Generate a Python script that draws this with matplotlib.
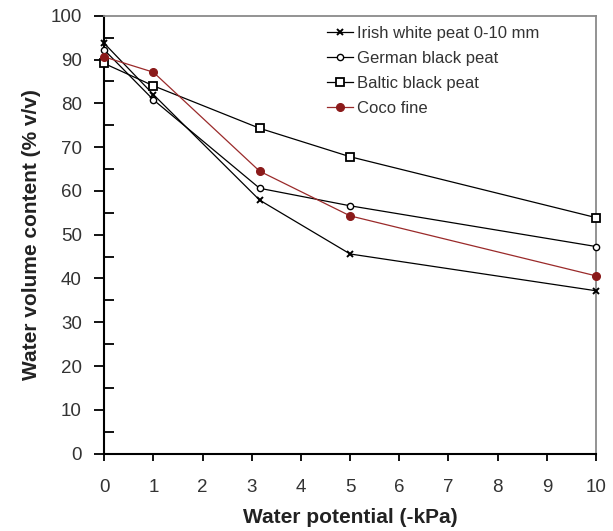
import matplotlib
matplotlib.use("Agg")
import matplotlib.pyplot as plt
from matplotlib.ticker import MultipleLocator

plt.rcParams['font.family'] = ['Liberation Sans', 'DejaVu Sans']

# Water retention data
potential = [0, 1, 3.16, 5, 10]
irish_white = [93.7, 82.0, 57.9, 45.6, 37.2]
german_black = [92.2, 80.8, 60.6, 56.6, 47.3]
baltic_black = [89.1, 84.0, 74.3, 67.8, 53.9]
coco_fine = [90.6, 87.1, 64.5, 54.3, 40.6]

series_names = ["Irish white peat 0-10 mm", "German black peat",
                "Baltic black peat", "Coco fine"]
x_ticks = list(range(0, 11))
y_ticks = list(range(0, 101, 10))

fig = plt.figure(figsize=(6.13, 5.31), dpi=100)
ax = fig.add_axes([0.170, 0.1456, 0.8023, 0.8248])

common = dict(lw=0.9, clip_on=False, zorder=3)
ax.plot(potential, irish_white, color='black', marker='x',
        ms=4.5, mew=1.4, label=series_names[0], **common)
ax.plot(potential, german_black, color='black', marker='o',
        ms=4.5, mfc='white', mec='black', mew=1.0, label=series_names[1], **common)
ax.plot(potential, baltic_black, color='black', marker='s',
        ms=6, mfc='white', mec='black', mew=1.3, label=series_names[2], **common)
ax.plot(potential, coco_fine, color='#9a2a2a', marker='o', ms=5.5,
        mfc='#8b1a1a', mec='#8b1a1a', label=series_names[3],
        lw=0.9, clip_on=False, zorder=4)

ax.set_xlim(0, 10)
ax.set_ylim(0, 100)
ax.set_xticks(x_ticks)
ax.set_yticks(y_ticks)
ax.yaxis.set_minor_locator(MultipleLocator(5))

ax.tick_params(axis='y', which='major', direction='out', length=7, width=1.3,
               pad=9, labelsize=13.5, labelcolor='#333333')
ax.tick_params(axis='y', which='minor', direction='in', length=7, width=1.3)
ax.tick_params(axis='x', which='major', direction='out', length=5, width=1.3,
               pad=13, labelsize=13.5, labelcolor='#333333')

for side in ('left', 'bottom'):
    ax.spines[side].set_color('black')
    ax.spines[side].set_linewidth(1.5)
for side in ('top', 'right'):
    ax.spines[side].set_color('#8a8a8a')
    ax.spines[side].set_linewidth(1.3)

ax.set_xlabel('Water potential (-kPa)', fontsize=15, fontweight='bold',
              color='#222222', labelpad=9)
ax.set_ylabel('Water volume content (% v/v)', fontsize=15, fontweight='bold',
              color='#222222', labelpad=7)

leg = ax.legend(loc='upper left', bbox_to_anchor=(0.452, 0.977), frameon=False,
                fontsize=12, handlelength=1.6, handletextpad=0.2,
                labelspacing=0.6, borderaxespad=0.0, borderpad=0.0)
for t in leg.get_texts():
    t.set_color('#333333')

fig.savefig('out.png', dpi=100)
